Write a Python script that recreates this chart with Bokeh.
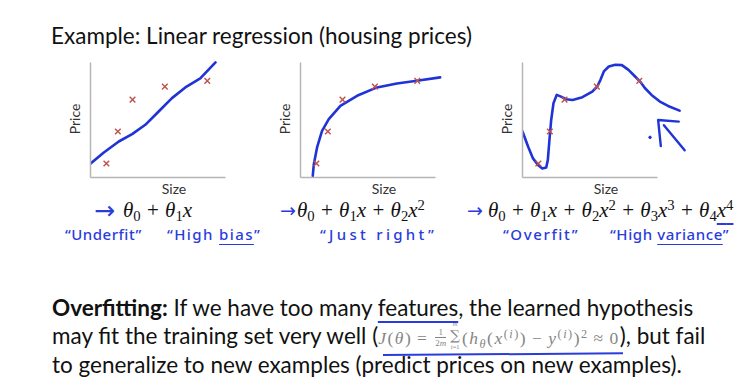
from bokeh.plotting import figure
from bokeh.models import Div, Range1d, FixedTicker
from bokeh.layouts import column, row
from bokeh.embed import file_html
from bokeh.resources import INLINE

# ---------------- data ----------------
# training examples (identical in the three panels)
size_x = [1.18, 2.03, 3.12, 5.52, 8.67]
price_y = [1.22, 4.00, 6.77, 7.90, 8.40]

# hand-drawn hypotheses
under_x = [-0.20, 0.99, 2.10, 3.09, 4.07, 5.06, 6.05, 7.04, 8.15, 9.28]
under_y = [1.01, 2.17, 3.13, 3.77, 4.58, 5.74, 6.90, 7.83, 8.61, 10.00]

right_x = [0.91, 0.99, 1.23, 1.60, 2.10, 2.96, 4.20, 5.68, 7.16, 8.64, 10.37]
right_y = [0.14, 1.16, 2.61, 4.06, 5.07, 6.23, 7.10, 7.83, 8.17, 8.41, 8.70]

over_x = [-0.32, 0.05, 0.42, 0.78, 1.15, 1.47, 1.76, 1.88, 2.00, 2.13, 2.30, 2.54,
          2.86, 3.23, 3.72, 4.45, 5.18, 5.55, 5.79, 6.04, 6.41, 6.89, 7.38, 7.87,
          8.36, 8.73, 9.10, 9.58, 10.20, 10.81, 11.66]
over_y = [4.85, 3.84, 2.67, 1.66, 1.08, 0.78, 0.87, 1.51, 3.26, 5.00, 6.45, 7.18,
          7.03, 6.80, 6.74, 6.98, 7.47, 7.91, 8.49, 9.22, 9.65, 9.80, 9.77, 9.36,
          8.78, 8.34, 7.76, 7.18, 6.60, 6.22, 5.81]

# hand-drawn arrow and dot beside the overfit curve
arrow_xs = [[10.27, 10.07, 11.60], [10.50, 12.04]]
arrow_ys = [[2.73, 5.00, 4.86], [4.55, 2.37]]
dot_x = [9.47]
dot_y = [3.49]

x_label = "Size"
y_label = "Price"
title_text = "Example: Linear regression (housing prices)"
notes = [("“Underfit”", 57, 0.5), ("“High <u>bias</u>”", 159, 1.4), ("“Just right”", 312, 3.3),
         ("“Overfit”", 495, 1.6), ("“High <u>variance</u>”", 602, 0.6)]

BLUE = "#1f33d6"
RED = "#c0504d"
HAND = "#2a3cdc"


def panel(width, left, right, cx, cy, extra=False):
    p = figure(width=width, height=142, x_range=Range1d(0, 12.4), y_range=Range1d(0, 10.17),
               min_border_left=left, min_border_right=right, min_border_top=2,
               min_border_bottom=23, toolbar_location=None, output_backend="svg",
               x_axis_label=x_label, y_axis_label=y_label)
    p.grid.visible = False
    p.outline_line_color = None
    for ax in (p.xaxis[0], p.yaxis[0]):
        ax.ticker = FixedTicker(ticks=[])
        ax.major_tick_out = 0
        ax.major_tick_in = 0
        ax.minor_tick_out = 0
        ax.minor_tick_in = 0
        ax.major_label_standoff = 0
        ax.major_label_text_font_size = "0px"
        ax.axis_line_color = "#b5b5b5"
        ax.axis_line_width = 1.5
        ax.axis_label_text_font = "Lato"
        ax.axis_label_text_font_size = "14px"
        ax.axis_label_text_font_style = "normal"
        ax.axis_label_text_color = "#333333"
        ax.bounds = (0, 10)
    p.xaxis[0].axis_label_standoff = 2
    p.yaxis[0].axis_label_standoff = 8
    p.line(cx, cy, line_color=BLUE, line_width=2.6, line_join="round", line_cap="round")
    p.scatter(size_x, price_y, marker="x", size=8, line_color=RED, line_width=1.4)
    if extra:
        p.multi_line(arrow_xs, arrow_ys, line_color=BLUE, line_width=2.4,
                     line_join="round", line_cap="round")
        p.scatter(dot_x, dot_y, size=2.5, color=BLUE)
    return p


f1 = panel(258, 82, 9, under_x, under_y)
f2 = panel(222, 34, 21, right_x, right_y)
f3 = panel(257, 34, 56, over_x, over_y, extra=True)

FONT = 22.5
title_div = Div(
    text=(f'<div style="position:relative;width:737px;height:50px;font-family:Lato;color:#111;">'
          f'<div style="position:absolute;left:43px;top:17px;font-size:{FONT}px;'
          f'line-height:{FONT}px;white-space:nowrap;">{title_text}</div></div>'),
    width=737, height=50, margin=(0, 0, 0, 0))


def th(n):
    return f'<i>θ</i><span style="font-size:70%;position:relative;top:0.25em;">{n}</span>'


def xp(n, mark=False):
    s = f'<i>x</i><span style="font-size:70%;position:relative;top:-0.5em;">{n}</span>'
    if mark:
        s = (f'<span style="text-decoration:underline 2px {HAND};text-underline-offset:6px;">'
             f'{s}</span>')
    return s


PLUS = '<span style="margin:0 0.3em;">+</span>'
f1_html = th(0) + PLUS + th(1) + '<i>x</i>'
f2_html = f1_html + PLUS + th(2) + xp(2)
f3_html = f2_html + PLUS + th(3) + xp(3) + PLUS + th(4) + xp(4, True)

FSTYLE = ("position:absolute;top:0px;font-family:'Liberation Serif';font-size:21px;"
          "line-height:21px;white-space:nowrap;color:#111;")
ASTYLE = f"position:absolute;font-family:'DejaVu Sans';color:{HAND};white-space:nowrap;"
NSTYLE = (f"position:absolute;top:27px;font-family:'Noto Sans';font-weight:500;font-size:15px;"
          f"line-height:15px;color:{HAND};white-space:nowrap;")

formula_parts = (
    f'<div style="{ASTYLE}left:86px;top:-2px;font-size:25px;line-height:25px;">→</div>'
    f'<div style="{FSTYLE}left:115px;">{f1_html}</div>'
    f'<div style="{ASTYLE}left:272px;top:1px;font-size:19px;line-height:19px;">→</div>'
    f'<div style="{FSTYLE}left:289px;">{f2_html}</div>'
    f'<div style="{ASTYLE}left:459px;top:1px;font-size:19px;line-height:19px;">→</div>'
    f'<div style="{FSTYLE}left:480px;">{f3_html}</div>'
)
note_parts = "".join(
    f'<div style="{NSTYLE}left:{x}px;letter-spacing:{ls}px;"><span style="text-decoration-thickness:2px;'
    f'text-underline-offset:4px;">{t}</span></div>' for t, x, ls in notes)

GRAY = "#858585"
frac = ('<span style="display:inline-block;vertical-align:-2.2px;text-align:center;'
        'font-size:9px;line-height:10px;margin:-10px 2px;letter-spacing:0;">'
        f'<span style="display:block;border-bottom:1px solid {GRAY};padding:0 1px;">1</span>'
        '<span style="display:block;">2<i>m</i></span></span>')
summ = ('<span style="display:inline-block;vertical-align:-5.2px;text-align:center;'
        'margin:-12px 2px;letter-spacing:0;">'
        '<span style="display:block;font-size:6.5px;line-height:7.2px;"><i>m</i></span>'
        '<span style="display:block;font-family:\'DejaVu Serif\';font-size:13.5px;'
        'line-height:15.8px;">∑</span>'
        '<span style="display:block;font-size:6.5px;line-height:7.2px;"><i>i</i>=1</span></span>')
sup_i = '<span style="font-size:70%;position:relative;top:-0.5em;">(<i>i</i>)</span>'
REL = '<span style="margin:0 0.28em;">{}</span>'
formula = (f'<span style="font-family:\'Liberation Serif\';font-size:17.5px;color:{GRAY};'
           f'letter-spacing:1.5px;">'
           f'<i>J</i>(<i>θ</i>){REL.format("=")}{frac}{summ}(<i>h</i>'
           f'<span style="font-size:70%;position:relative;top:0.3em;"><i>θ</i></span>'
           f'(<i>x</i>{sup_i}){REL.format("−")}<i>y</i>{sup_i})'
           f'<span style="font-size:70%;position:relative;top:-0.5em;">2</span>'
           f'{REL.format("≈")}0</span>')

PSTYLE = (f"position:absolute;left:44px;font-family:Lato;font-size:{FONT}px;"
          f"line-height:{FONT}px;white-space:nowrap;color:#111;")
line1 = ('<b>Overfitting:</b> If we have too many '
         f'<span style="text-decoration:underline 2px {HAND};text-underline-offset:5px;">'
         'features</span>, the learned hypothesis')
line2 = f'may fit the training set very well ({formula}), but fail'
line3 = 'to generalize to new examples (predict prices on new examples).'
para_parts = (
    f'<div style="{PSTYLE}top:96.5px;">{line1}</div>'
    f'<div style="{PSTYLE}top:125.3px;">{line2}</div>'
    f'<div style="{PSTYLE}top:154.1px;">{line3}</div>'
    f'<div style="position:absolute;left:375px;top:153.5px;width:240px;height:0;'
    f'border-top:2px solid {HAND};transform:rotate(-0.4deg);transform-origin:left;"></div>'
)

bottom_div = Div(
    text=(f'<div style="position:relative;width:737px;height:182px;">'
          f'{formula_parts}{note_parts}{para_parts}</div>'),
    width=737, height=182, margin=(0, 0, 0, 0))

layout = column(title_div, row(f1, f2, f3, spacing=0), bottom_div, spacing=0,
                margin=(8, 8, 8, 8))

with open("out.html", "w") as fh:
    fh.write(file_html(layout, INLINE))
